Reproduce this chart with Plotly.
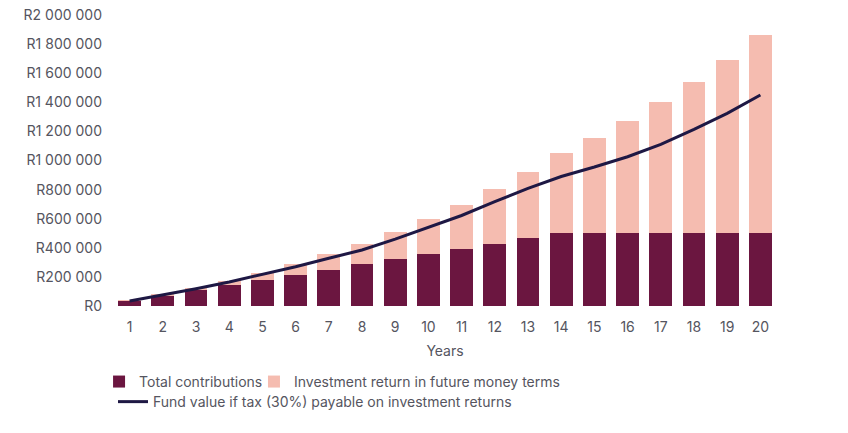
import plotly.graph_objects as go

years = list(range(1, 21))
year_labels = [str(y) for y in years]

# values in Rand
total_contributions = [36000, 71000, 107000, 143000, 179000, 214000, 250000, 286000, 321000, 357000,
                       393000, 429000, 464000, 500000, 500000, 500000, 500000, 500000, 500000, 500000]
investment_return = [2000, 5000, 15000, 29000, 48000, 75000, 107000, 142000, 190000, 241000,
                     303000, 375000, 459000, 549000, 655000, 771000, 900000, 1040000, 1193000, 1363000]
fund_value_after_tax = [34000, 74000, 118000, 165000, 215000, 270000, 328000, 385000, 460000, 541000,
                        622000, 717000, 809000, 890000, 955000, 1026000, 1111000, 1214000, 1324000, 1450000]

ytick_vals = [0, 200000, 400000, 600000, 800000, 1000000, 1200000, 1400000, 1600000, 1800000, 2000000]
ytick_text = ["R0", "R200 000", "R400 000", "R600 000", "R800 000", "R1 000 000",
              "R1 200 000", "R1 400 000", "R1 600 000", "R1 800 000", "R2 000 000"]

DARK = "#6B1640"
PINK = "#F5BCB0"
NAVY = "#1E1844"
TXT = "#555560"
FONT = "Inter"
FS = 14

fig = go.Figure()
fig.add_trace(go.Bar(x=year_labels, y=total_contributions, name="Total contributions",
                     marker=dict(color=DARK, line=dict(width=0)), legend="legend"))
fig.add_trace(go.Bar(x=year_labels, y=investment_return, name="Investment return in future money terms",
                     marker=dict(color=PINK, line=dict(width=0)), legend="legend3"))
fig.add_trace(go.Scatter(x=year_labels, y=fund_value_after_tax, mode="lines",
                         name="Fund value if tax (30%) payable on investment returns",
                         line=dict(color=NAVY, width=3), legend="legend2"))

leg_common = dict(orientation="h", xanchor="left", yanchor="middle",
                  font=dict(family=FONT, size=FS, color=TXT), bgcolor="rgba(0,0,0,0)",
                  itemwidth=30)

fig.update_layout(
    width=848, height=433,
    margin=dict(l=113, r=71, t=15, b=127, autoexpand=False),
    paper_bgcolor="white", plot_bgcolor="white",
    barmode="stack", bargap=0.31,
    font=dict(family=FONT, size=FS, color=TXT),
    showlegend=True,
    legend=dict(x=-0.021, y=-0.261, **leg_common),
    legend3=dict(x=0.2123, y=-0.261, **leg_common),
    legend2=dict(x=0.0, y=-0.33, **leg_common),
)
fig.update_xaxes(type="category", showgrid=False, showline=False, ticks="", zeroline=False,
                 ticklabelstandoff=11,
                 title=dict(text="Years", font=dict(family=FONT, size=FS, color=TXT), standoff=12),
                 tickfont=dict(family=FONT, size=FS, color=TXT))
fig.update_yaxes(range=[0, 2000000], tickvals=ytick_vals, ticktext=ytick_text,
                 showgrid=False, showline=False, zeroline=False, ticks="",
                 ticklabelstandoff=10,
                 tickfont=dict(family=FONT, size=FS, color=TXT))

fig.write_html("out.html", config={"displayModeBar": False},
               post_script="document.body.style.margin='0';")
